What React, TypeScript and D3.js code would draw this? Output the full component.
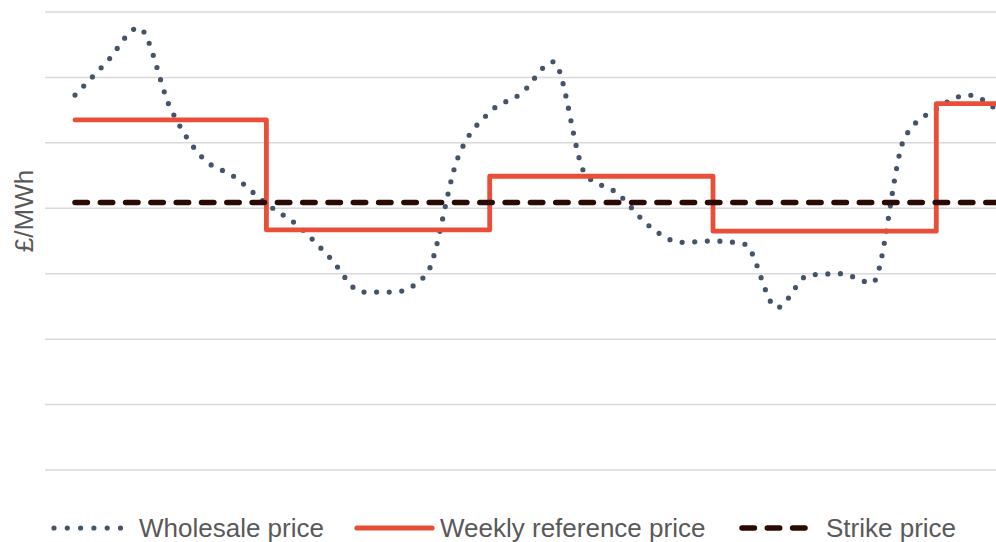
import * as d3 from "d3";
import React from "react";

// daily wholesale price (arbitrary £/MWh units, no axis values shown)
const days = d3.range(0, 30);
const wholesale = [
  5.73, 6.24, 6.76, 5.52, 4.77, 4.48, 4.07, 3.73, 3.24, 2.72,
  2.72, 2.98, 4.77, 5.47, 5.76, 6.24, 4.52, 4.23, 3.73, 3.48,
  3.5, 3.45, 2.48, 2.98, 3.0, 2.86, 5.07, 5.52, 5.73, 5.46,
];
// weekly reference price: start day of each week and its level
const weekStart = [0, 6, 13, 20, 27, 29];
const weekLevel = [5.35, 3.67, 4.49, 3.65, 5.6, 5.6];
const strikePrice = 4.09;
const gridValues = [0, 1, 2, 3, 4, 5, 6, 7];
const legendLabels = ["Wholesale price", "Weekly reference price", "Strike price"];

const width = 996,
  height = 542;

export default function App() {
  const x = d3.scaleLinear().domain([0, 29]).range([75, 75 + 29 * 31.9]);
  const y = d3.scaleLinear().domain([0, 7]).range([470, 12]);

  const wholesaleLine = d3
    .line<number>()
    .x((_, i) => x(days[i]))
    .y((d) => y(d))
    .curve(d3.curveMonotoneX);

  const stepLine = d3
    .line<number>()
    .x((_, i) => x(weekStart[i]))
    .y((d) => y(d))
    .curve(d3.curveStepAfter);

  const font = "'Liberation Sans', Arial, sans-serif";

  return (
    <svg
      width={width}
      height={height}
      style={{ position: "absolute", left: 0, top: 0, background: "#fff" }}
    >
      {gridValues.map((g) => (
        <line
          key={g}
          x1={45}
          x2={width}
          y1={y(g)}
          y2={y(g)}
          stroke="#d9d9d9"
          strokeWidth={1.5}
        />
      ))}

      <text
        transform={`translate(33, 211) rotate(-90)`}
        textAnchor="middle"
        fontFamily={font}
        fontSize={26}
        fill="#595959"
      >
        £/MWh
      </text>

      <path
        d={wholesaleLine(wholesale) || ""}
        fill="none"
        stroke="#44546a"
        strokeWidth={5.2}
        strokeLinecap="round"
        strokeDasharray="0 12.6"
      />
      <path
        d={stepLine(weekLevel) || ""}
        fill="none"
        stroke="#e84e38"
        strokeWidth={4.8}
        strokeLinecap="round"
        strokeLinejoin="round"
      />
      <line
        x1={x(0)}
        x2={width}
        y1={y(strikePrice)}
        y2={y(strikePrice)}
        stroke="#2b0a03"
        strokeWidth={5.5}
        strokeLinecap="round"
        strokeDasharray="12.4 12.9"
      />

      {/* legend */}
      <g fontFamily={font} fontSize={26} fill="#595959">
        <line
          x1={54}
          x2={121}
          y1={528}
          y2={528}
          stroke="#44546a"
          strokeWidth={5.2}
          strokeLinecap="round"
          strokeDasharray="0 13.3"
        />
        <text x={139} y={537}>
          {legendLabels[0]}
        </text>
        <line
          x1={357}
          x2={432}
          y1={528}
          y2={528}
          stroke="#e84e38"
          strokeWidth={5.2}
          strokeLinecap="round"
        />
        <text x={440} y={537}>
          {legendLabels[1]}
        </text>
        <line
          x1={742}
          x2={806}
          y1={528}
          y2={528}
          stroke="#2b0a03"
          strokeWidth={5.5}
          strokeLinecap="round"
          strokeDasharray="12.4 12.9"
        />
        <text x={826} y={537}>
          {legendLabels[2]}
        </text>
      </g>
    </svg>
  );
}
